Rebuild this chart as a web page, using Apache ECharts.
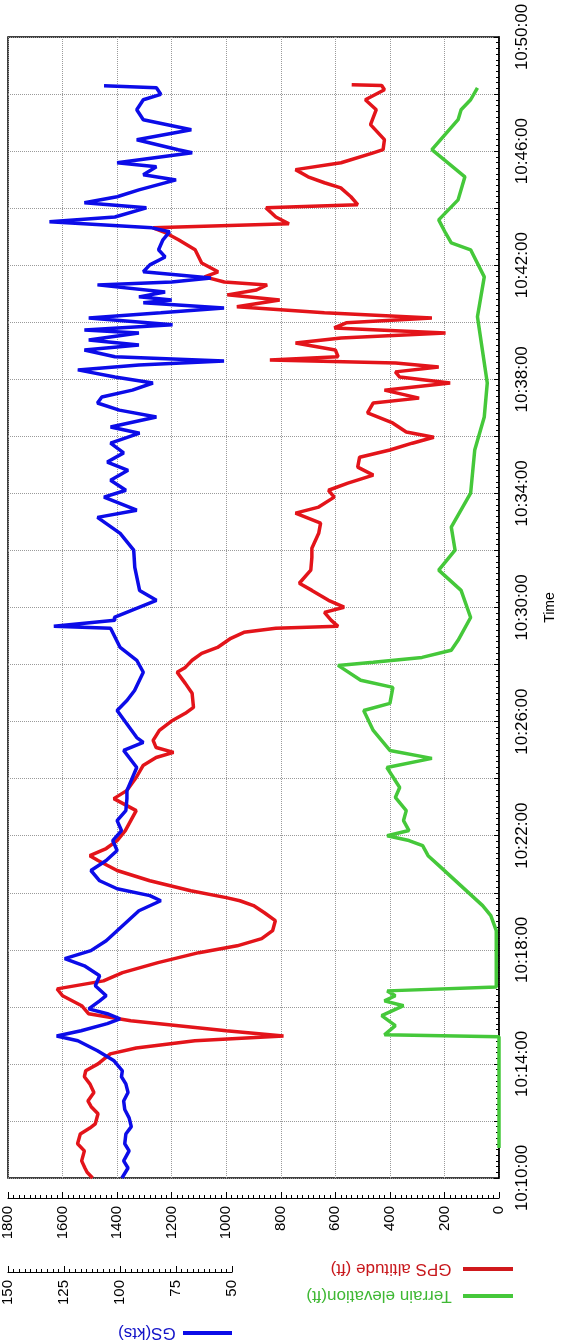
<!DOCTYPE html>
<html>
<head>
<meta charset="utf-8">
<script src="https://cdn.jsdelivr.net/npm/echarts@6/dist/echarts.min.js"></script>
<style>
  html, body { margin: 0; padding: 0; background: #fff; }
  #main { width: 565px; height: 1344px; }
</style>
</head>
<body>
<div id="main"></div>
<script>
// time is minutes past 10:00:00
var gpsTime = [10.00, 10.20, 10.35, 10.60, 10.95, 11.20, 11.54, 11.75, 11.90, 12.25, 12.50, 12.70, 13.00, 13.30, 13.55, 13.76, 14.00, 14.35, 14.56, 14.81, 14.98, 15.16, 15.51, 15.76, 16.04, 16.39, 16.63,
  16.91, 17.20, 17.55, 17.90, 18.14, 18.39, 18.67, 19.02, 19.30, 19.55, 19.72, 19.83, 20.07, 20.42, 20.78, 21.13, 21.30, 21.55, 21.83, 22.18,
  22.53, 22.88, 23.30, 23.58, 24.04, 24.46, 24.74, 24.92, 25.09, 25.34, 25.69, 26.04, 26.29, 26.50, 26.99, 27.34, 27.73, 27.90, 28.15, 28.39,
  28.60, 28.92, 29.13, 29.27, 29.34, 29.55, 29.83, 30.01, 30.25, 30.60, 30.85, 31.31, 31.76, 32.08, 32.60, 32.96, 33.31, 33.52, 33.87, 34.11,
  34.36, 34.64, 34.92, 35.27, 35.52, 35.76, 35.97, 36.15, 36.47, 36.82, 37.17, 37.34, 37.62, 37.87, 38.08, 38.26, 38.43, 38.57, 38.68, 38.79,
  39.03, 39.27, 39.45, 39.62, 39.80, 39.98, 40.15, 40.33, 40.54, 40.78, 40.96, 41.13, 41.31, 41.41, 41.59, 41.77, 42.08, 42.54, 42.89, 43.13,
  43.31, 43.45, 43.69, 44.01, 44.12, 44.40, 44.71, 44.89, 45.10, 45.35, 45.59, 45.94, 46.05, 46.40, 46.93, 47.45, 47.80, 48.15, 48.30, 48.33];
var gpsAlt = [1490, 1510, 1518, 1530, 1520, 1545, 1535, 1500, 1480, 1470, 1495, 1507, 1485, 1500, 1520, 1515, 1470, 1425, 1330, 1115, 790, 1000, 1350, 1505, 1530, 1600, 1620,
  1450, 1380, 1250, 1100, 960, 870, 830, 820, 860, 900, 950, 1000, 1130, 1280, 1400, 1470, 1500, 1440, 1400, 1370,
  1350, 1330, 1412, 1365, 1330, 1305, 1257, 1193, 1257, 1268, 1245, 1197, 1150, 1120, 1125, 1150, 1180, 1150, 1125, 1090,
  1032, 983, 935, 818, 590, 615, 640, 568, 625, 686, 732, 690, 686, 686, 661, 654, 746, 661, 604, 625,
  554, 461, 518, 511, 400, 318, 239, 340, 390, 482, 461, 293, 420, 179, 364, 380, 221, 379, 840, 590,
  600, 746, 579, 196, 604, 560, 246, 640, 961, 804, 996, 889, 850, 1007, 1079, 1030, 1090, 1114, 1175, 1221,
  1268, 770, 818, 854, 518, 543, 580, 640, 700, 746, 579, 461, 425, 420, 471, 450, 490, 420, 430, 540];

var gsTime = [10.00, 10.35, 10.60, 10.95, 11.20, 11.54, 11.80, 12.11, 12.40, 12.70, 13.00, 13.30, 13.55, 13.76, 14.11, 14.46, 14.81, 14.98, 15.16, 15.41, 15.58, 15.76, 15.93, 16.21, 16.39, 16.74,
  17.09, 17.44, 17.69, 17.97, 18.32, 18.67, 19.02, 19.37, 19.72, 19.90, 20.14, 20.42, 20.78, 21.13, 21.48, 21.83, 22.18, 22.53, 22.88, 23.30,
  23.58, 24.39, 24.99, 25.27, 25.44, 26.39, 26.74, 27.09, 27.73, 28.15, 28.60, 29.27, 29.34, 29.55, 29.65, 30.25, 30.60, 31.41, 32.01, 32.60,
  33.16, 33.41, 33.87, 34.11, 34.46, 34.81, 35.10, 35.42, 35.76, 36.11, 36.33, 36.68, 36.92, 37.17, 37.38, 37.62, 37.87, 38.08, 38.33, 38.50,
  38.64, 38.79, 39.03, 39.20, 39.38, 39.62, 39.73, 39.91, 40.15, 40.33, 40.50, 40.68, 40.78, 40.89, 41.06, 41.31, 41.41, 41.55, 41.77, 42.01,
  42.29, 42.54, 42.89, 43.17, 43.31, 43.52, 43.69, 44.01, 44.19, 44.40, 44.64, 44.99, 45.17, 45.45, 45.59, 45.94, 46.05, 46.40, 46.75, 47.10,
  47.45, 47.80, 47.99, 48.22, 48.29];
var gsKts = [97.8, 95, 97, 94.5, 96.5, 96, 93.5, 94.5, 96.5, 97, 95, 96, 98, 97.6, 101.4, 109, 118, 127.7, 116.5, 104.5, 98.7, 104.5, 113, 108, 105, 110,
  108, 115, 124, 112, 105, 100, 95, 90, 80, 85, 100, 108, 112, 105, 100, 102, 98, 100, 96, 95.5,
  95.5, 91, 97, 88, 91, 100, 95.5, 92, 88, 91, 98.6, 103, 129, 101, 101.3, 82, 89.7, 91.9, 92.4, 98.6,
  109, 91, 106, 96, 103, 95, 104.5, 97, 103, 89.7, 103, 82, 99, 109, 107, 93, 83.6, 101, 118, 90,
  51, 101, 115, 90, 113, 90, 115, 74.6, 113, 80, 51, 88, 75, 90, 78, 109, 75, 57, 88, 85,
  78, 81, 79, 76, 84, 131, 101, 86.6, 115, 100, 90, 73, 88, 82, 100, 65.6, 72, 91, 66, 88,
  91, 88, 80, 82, 106];

var terrTime = [11.05, 14.95, 15.02, 15.34, 15.69, 16.04, 16.21, 16.39, 16.56, 16.70, 18.67, 19.20, 19.55, 19.90, 20.25, 20.60, 20.95, 21.30, 21.65, 21.83,
  22.00, 22.18, 22.53, 22.88, 23.34, 23.69, 24.39, 24.71, 24.99, 25.69, 26.39, 26.64, 27.20, 27.45, 27.97, 28.08, 28.25, 28.50, 28.85, 29.65,
  30.60, 31.31, 32.01, 32.82, 34.01, 35.52, 36.68, 37.87, 40.19, 41.59, 42.54, 42.78, 43.13, 43.59, 44.29, 45.10, 46.05, 47.10, 47.45, 47.80, 48.22];
var terrElev = [0, 0, 420, 380, 430, 350, 420, 380, 410, 10, 10, 30, 60, 100, 140, 180, 220, 260, 280, 330,
  410, 330, 350, 340, 380, 364, 411, 246, 400, 461, 496, 400, 389, 507, 590, 461, 282, 175, 150, 104,
  139, 221, 161, 175, 104, 89, 54, 43, 79, 54, 104, 175, 196, 221, 150, 125, 246, 150, 139, 104, 79];

var ftTicks = [0, 1800, 200];
var gsTicks = [50, 150, 25];
var timeTicks = [10, 50, 2];

var RED = '#e3141a', BLUE = '#0c0ce8', GREEN = '#45c83a';

function zip(t, v) {
  var out = [];
  for (var i = 0; i < t.length; i++) out.push([v[i], t[i]]);
  return out;
}

var chart = echarts.init(document.getElementById('main'));
var font = 'Liberation Sans, Arial, sans-serif';

var option = {
  animation: false,
  grid: [
    { left: 8, right: 53, top: 37, bottom: 166, show: true, borderColor: '#000', borderWidth: 1.5, containLabel: false },
    { left: 8, width: 224, top: 1271, height: 1, containLabel: false }
  ],
  xAxis: [
    {
      type: 'value', gridIndex: 0, min: ftTicks[0], max: ftTicks[1], interval: ftTicks[2],
      inverse: true, position: 'bottom', offset: 20,
      axisLine: { show: true, lineStyle: { color: '#000', width: 1.2 } },
      axisTick: { show: true, inside: true, length: 6, lineStyle: { color: '#000' } },
      minorTick: { show: true, splitNumber: 10, length: 3, lineStyle: { color: '#000' } },
      axisLabel: { rotate: 90, margin: 8, color: '#000', fontSize: 15, fontFamily: font,
        formatter: function (v) { return String(v); } },
      splitLine: { show: true, lineStyle: { color: '#9a9a9a', type: 'dotted', width: 1 } }
    },
    {
      type: 'value', gridIndex: 1, min: gsTicks[0], max: gsTicks[1], interval: gsTicks[2],
      inverse: true, position: 'bottom',
      axisLine: { show: true, lineStyle: { color: '#000', width: 1.2 } },
      axisTick: { show: true, inside: true, length: 6, lineStyle: { color: '#000' } },
      minorTick: { show: true, splitNumber: 10, length: 3, lineStyle: { color: '#000' } },
      axisLabel: { rotate: 90, margin: 8, color: '#000', fontSize: 15, fontFamily: font,
        formatter: function (v) { return String(v); } },
      splitLine: { show: false }
    },
    {
      // hidden GS scale aligned so 50..150 kts sits over 1000..1800 ft
      type: 'value', gridIndex: 0, min: -75, max: 150, inverse: true, show: false
    }
  ],
  yAxis: [
    {
      type: 'value', gridIndex: 0, min: timeTicks[0], max: timeTicks[1], interval: timeTicks[2],
      position: 'right',
      name: 'Time', nameLocation: 'middle', nameRotate: 90, nameGap: 44,
      nameTextStyle: { color: '#000', fontSize: 14, fontFamily: font },
      axisLine: { show: true, lineStyle: { color: '#000', width: 1.5 } },
      axisTick: { show: true, inside: true, length: 5, lineStyle: { color: '#000' } },
      minorTick: { show: true, splitNumber: 10, length: 3, lineStyle: { color: '#000' } },
      axisLabel: {
        rotate: 90, margin: 15, color: '#000', fontSize: 17, fontFamily: font,
        formatter: function (v) { return (v % 4 === 2) ? '10:' + v + ':00' : ''; }
      },
      splitLine: { show: true, lineStyle: { color: '#9a9a9a', type: 'dotted', width: 1 } }
    },
    { type: 'value', gridIndex: 1, show: false, min: 0, max: 1 }
  ],
  series: [
    {
      name: 'Terrain elevation(ft)', type: 'line', xAxisIndex: 0, yAxisIndex: 0,
      data: zip(terrTime, terrElev), showSymbol: false, color: GREEN,
      lineStyle: { width: 3.5, color: GREEN }
    },
    {
      name: 'GPS altitude (ft)', type: 'line', xAxisIndex: 0, yAxisIndex: 0,
      data: zip(gpsTime, gpsAlt), showSymbol: false, color: RED,
      lineStyle: { width: 3.5, color: RED }
    },
    {
      name: 'GS(kts)', type: 'line', xAxisIndex: 2, yAxisIndex: 0,
      data: zip(gsTime, gsKts), showSymbol: false, color: BLUE,
      lineStyle: { width: 3.5, color: BLUE }
    }
  ],
  graphic: [
    { type: 'line', shape: { x1: 463, y1: 1269, x2: 513, y2: 1269 }, style: { stroke: '#d0191d', lineWidth: 4 } },
    { type: 'text', x: 391, y: 1269, rotation: Math.PI,
      style: { text: 'GPS altitude (ft)', fill: '#c8181c', font: '17px ' + font, textAlign: 'center', textVerticalAlign: 'middle' } },
    { type: 'line', shape: { x1: 463, y1: 1296, x2: 513, y2: 1296 }, style: { stroke: GREEN, lineWidth: 4 } },
    { type: 'text', x: 379, y: 1296, rotation: Math.PI,
      style: { text: 'Terrain elevation(ft)', fill: '#3fb834', font: '17px ' + font, textAlign: 'center', textVerticalAlign: 'middle' } },
    { type: 'line', shape: { x1: 183, y1: 1333, x2: 232, y2: 1333 }, style: { stroke: BLUE, lineWidth: 4 } },
    { type: 'text', x: 147, y: 1333, rotation: Math.PI,
      style: { text: 'GS(kts)', fill: '#1212c8', font: '17px ' + font, textAlign: 'center', textVerticalAlign: 'middle' } }
  ]
};

chart.setOption(option);
window.addEventListener('resize', function () { chart.resize(); });
</script>
</body>
</html>
